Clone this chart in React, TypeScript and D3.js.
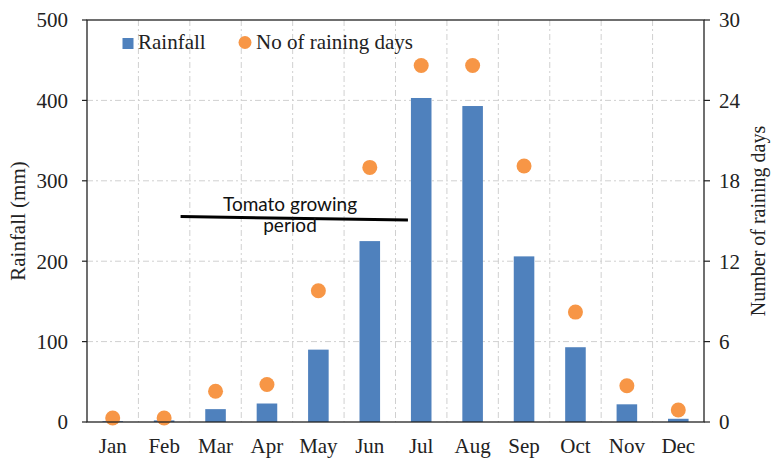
import React from "react";
import * as d3 from "d3";

const months = ["Jan", "Feb", "Mar", "Apr", "May", "Jun", "Jul", "Aug", "Sep", "Oct", "Nov", "Dec"];
const rainfall = [1, 2, 16, 23, 90, 225, 403, 393, 206, 93, 22, 4];
const rainDays = [0.3, 0.3, 2.3, 2.8, 9.8, 19, 26.6, 26.6, 19.1, 8.2, 2.7, 0.9];
const rainTicks = [0, 100, 200, 300, 400, 500];
const dayTicks = [0, 6, 12, 18, 24, 30];

const W = 772;
const H = 459;
const M = { left: 87, right: 68, top: 20, bottom: 37 };
const serif = "'Liberation Serif', 'Times New Roman', serif";
const sans = "Lato, 'Open Sans', sans-serif";
const BLUE = "#4F81BD";
const ORANGE = "#F79646";
const FS = 21;

export default function App() {
  const x0 = M.left;
  const x1 = W - M.right;
  const y0 = H - M.bottom;
  const y1 = M.top;

  const x = d3.scaleBand<string>().domain(months).range([x0, x1]).paddingInner(0).paddingOuter(0);
  const yL = d3.scaleLinear().domain([0, 500]).range([y0, y1]);
  const yR = d3.scaleLinear().domain([0, 30]).range([y0, y1]);
  const bw = x.bandwidth() * 0.4;
  const grid = "#d0d0d0";
  const dash = "6 3 2 3";

  // growing period marker: from late Feb up to the July bar
  const lineStart = x(months[1])! + x.bandwidth() * 0.82;
  const lineEnd = x(months[6])! + (x.bandwidth() - bw) / 2 - 3;

  return (
    <svg width={W} height={H} style={{ position: "absolute", left: 0, top: 0, background: "#fff" }}>
      {/* horizontal grid */}
      {rainTicks.slice(1, -1).map((t) => (
        <line key={"h" + t} x1={x0} x2={x1} y1={yL(t)} y2={yL(t)} stroke={grid} strokeDasharray={dash} />
      ))}
      {/* vertical grid at month boundaries */}
      {months.slice(1).map((m) => (
        <line key={"v" + m} x1={x(m)!} x2={x(m)!} y1={y1} y2={y0} stroke={grid} strokeDasharray={dash} />
      ))}
      {/* bars */}
      {months.map((m, i) => (
        <rect
          key={"b" + m}
          x={x(m)! + (x.bandwidth() - bw) / 2}
          y={yL(rainfall[i])}
          width={bw}
          height={y0 - yL(rainfall[i])}
          fill={BLUE}
        />
      ))}
      {/* dots */}
      {months.map((m, i) => (
        <circle key={"d" + m} cx={x(m)! + x.bandwidth() / 2} cy={yR(rainDays[i])} r={7.5} fill={ORANGE} />
      ))}
      {/* frame */}
      <rect x={x0} y={y1} width={x1 - x0} height={y0 - y1} fill="none" stroke="#222" strokeWidth={1.3} />
      {/* left ticks */}
      {rainTicks.map((t) => (
        <g key={"lt" + t}>
          <line x1={x0 - 5} x2={x0} y1={yL(t)} y2={yL(t)} stroke="#222" strokeWidth={1.2} />
          <text x={x0 - 19} y={yL(t)} dy="0.35em" textAnchor="end" fontFamily={serif} fontSize={FS} fill="#222">
            {t}
          </text>
        </g>
      ))}
      {/* right ticks */}
      {dayTicks.map((t) => (
        <g key={"rt" + t}>
          <line x1={x1} x2={x1 + 6} y1={yR(t)} y2={yR(t)} stroke="#222" strokeWidth={1.2} />
          <text x={x1 + 15} y={yR(t)} dy="0.35em" textAnchor="start" fontFamily={serif} fontSize={FS} fill="#222">
            {t}
          </text>
        </g>
      ))}
      {/* month labels */}
      {months.map((m) => (
        <text key={"m" + m} x={x(m)! + x.bandwidth() / 2} y={453} textAnchor="middle" fontFamily={serif} fontSize={FS} fill="#222">
          {m}
        </text>
      ))}
      {/* axis titles */}
      <text transform={`translate(25,${(y0 + y1) / 2}) rotate(-90)`} textAnchor="middle" fontFamily={serif} fontSize={FS} fill="#222">
        Rainfall (mm)
      </text>
      <text transform={`translate(765,${(y0 + y1) / 2}) rotate(-90)`} textAnchor="middle" fontFamily={serif} fontSize={20} fill="#222">
        Number of raining days
      </text>
      {/* legend */}
      <rect x={122.5} y={38} width={11} height={11} fill={BLUE} />
      <text x={138} y={49} fontFamily={serif} fontSize={FS} fill="#222">Rainfall</text>
      <circle cx={245} cy={42.5} r={6.5} fill={ORANGE} />
      <text x={256} y={49} fontFamily={serif} fontSize={FS} fill="#222">No of raining days</text>
      {/* growing period annotation */}
      <line x1={lineStart} y1={216.5} x2={lineEnd} y2={220} stroke="#000" strokeWidth={3} />
      <text x={290} y={211} textAnchor="middle" fontFamily={sans} fontSize={19} fill="#111">
        Tomato growing
      </text>
      <text x={290} y={232} textAnchor="middle" fontFamily={sans} fontSize={19} fill="#111">
        period
      </text>
    </svg>
  );
}
